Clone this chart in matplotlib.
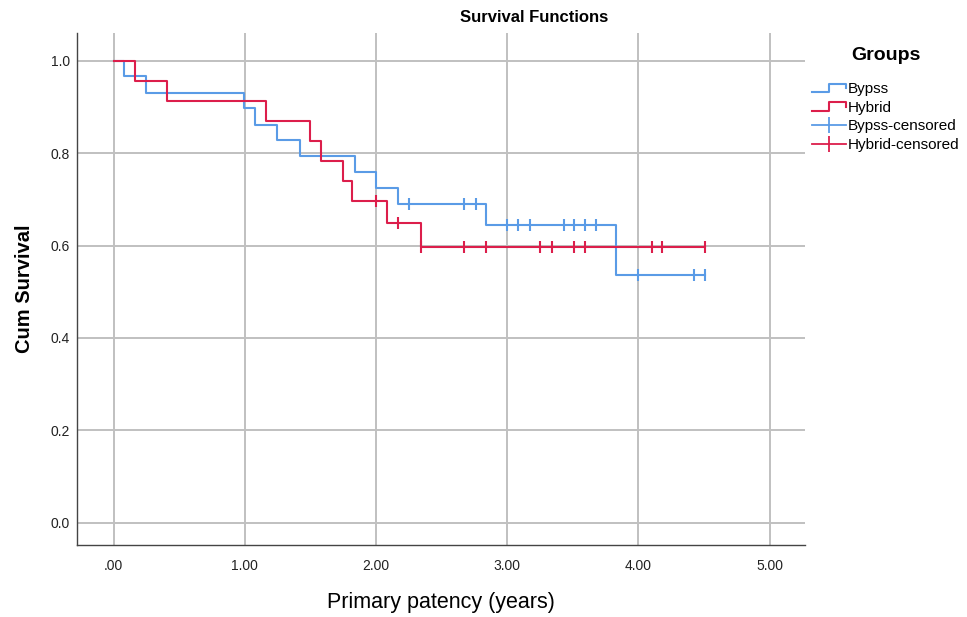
import matplotlib
matplotlib.use("Agg")
import matplotlib.pyplot as plt
from matplotlib.lines import Line2D
from matplotlib.legend_handler import HandlerBase

plt.rcParams['font.family'] = ['Liberation Sans', 'DejaVu Sans']

# ---- data ----
bypass_event_times = [0.076, 0.25, 0.99, 1.08, 1.245, 1.42, 1.84, 2.0, 2.17, 2.84, 3.83]
bypass_survival = [0.966, 0.931, 0.897, 0.862, 0.828, 0.793, 0.759, 0.724, 0.690, 0.644, 0.537]
bypass_censored = [2.25, 2.67, 2.76, 3.0, 3.08, 3.17, 3.43, 3.51, 3.59, 3.68, 4.0, 4.42, 4.51]

hybrid_event_times = [0.16, 0.41, 1.16, 1.50, 1.58, 1.75, 1.82, 2.08, 2.34]
hybrid_survival = [0.957, 0.913, 0.870, 0.826, 0.783, 0.739, 0.696, 0.649, 0.597]
hybrid_censored = [2.0, 2.17, 2.34, 2.67, 2.84, 3.25, 3.34, 3.51, 3.59, 4.10, 4.18, 4.51]

x_ticks = [0, 1, 2, 3, 4, 5]
x_tick_labels = ['.00', '1.00', '2.00', '3.00', '4.00', '5.00']
y_ticks = [0.0, 0.2, 0.4, 0.6, 0.8, 1.0]
y_tick_labels = ['0.0', '0.2', '0.4', '0.6', '0.8', '1.0']

BLUE = '#5a9be6'
RED = '#dc1e4b'


def surv_at(times, surv, t):
    s = 1.0
    for tt, ss in zip(times, surv):
        if tt <= t:
            s = ss
    return s


fig = plt.figure(figsize=(9.67, 6.17), dpi=100)
ax = fig.add_axes([0.0796, 0.1167, 0.7529, 0.8298])

ax.set_xlim(-0.28, 5.27)
ax.set_ylim(-0.048, 1.06)

ax.set_xticks(x_ticks)
ax.set_xticklabels(x_tick_labels, fontsize=10)
ax.set_yticks(y_ticks)
ax.set_yticklabels(y_tick_labels, fontsize=10)
ax.tick_params(axis='x', length=0, pad=10, colors='#222222')
ax.tick_params(axis='y', length=0, pad=5, colors='#222222')
ax.grid(True, color='#c0c0c0', linewidth=1.4)
ax.set_axisbelow(True)
for side in ['top', 'right']:
    ax.spines[side].set_visible(False)
for side in ['left', 'bottom']:
    ax.spines[side].set_color('#444444')
    ax.spines[side].set_linewidth(1.0)


def draw_group(times, surv, cens, color):
    end = max(cens + times)
    xs = [0.0] + times + [end]
    ys = [1.0] + surv + [surv[-1]]
    ax.step(xs, ys, where='post', color=color, linewidth=1.5, zorder=3)
    cy = [surv_at(times, surv, c) for c in cens]
    ax.plot(cens, cy, linestyle='none', marker='|', markersize=9,
            markeredgewidth=1.5, color=color, zorder=4)


draw_group(bypass_event_times, bypass_survival, bypass_censored, BLUE)
draw_group(hybrid_event_times, hybrid_survival, hybrid_censored, RED)

ax.set_xlabel('Primary patency (years)', fontsize=15.5, labelpad=14)
ax.set_ylabel('Cum Survival', fontsize=14.5, fontweight='bold', labelpad=12)

fig.text(534 / 967, 1 - 18 / 617, 'Survival Functions', fontsize=12,
         fontweight='bold', ha='center', va='center')


class StepHandler(HandlerBase):
    def create_artists(self, legend, orig_handle, xdescent, ydescent,
                       width, height, fontsize, trans):
        x0 = -xdescent
        y0 = -ydescent
        xs = [x0, x0 + width * 0.5, x0 + width * 0.5, x0 + width, x0 + width]
        ys = [y0 + height * 0.1, y0 + height * 0.1, y0 + height * 0.9,
              y0 + height * 0.9, y0 + height * 0.5]
        ln = Line2D(xs, ys, color=orig_handle.get_color(), linewidth=1.5,
                    transform=trans)
        return [ln]


h_bypass = Line2D([], [], color=BLUE)
h_hybrid = Line2D([], [], color=RED)
h_bc = Line2D([], [], color=BLUE, marker='|', markersize=11, markeredgewidth=1.3, linewidth=1.3)
h_hc = Line2D([], [], color=RED, marker='|', markersize=11, markeredgewidth=1.3, linewidth=1.3)

leg = fig.legend([h_bypass, h_hybrid, h_bc, h_hc],
                 ['Bypss', 'Hybrid', 'Bypss-censored', 'Hybrid-censored'],
                 handler_map={h_bypass: StepHandler(), h_hybrid: StepHandler()},
                 loc='upper left', bbox_to_anchor=(800 / 967, 1 - 35 / 617),
                 frameon=False, fontsize=11, title='Groups',
                 title_fontproperties={'weight': 'bold', 'size': 14},
                 handlelength=2.2, handletextpad=0.15, labelspacing=0.3,
                 borderpad=0.3, alignment='center')
leg._legend_box.sep = 13

fig.savefig('out.png', dpi=100)
